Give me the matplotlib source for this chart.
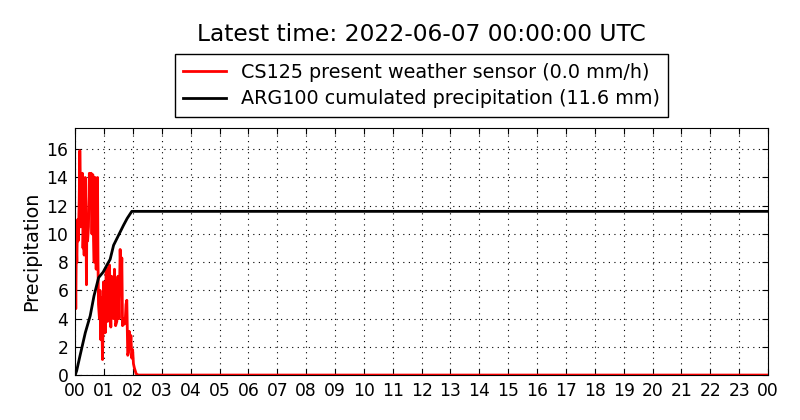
import matplotlib
matplotlib.use('Agg')
import matplotlib.pyplot as plt

# CS125 present weather sensor, hours since 00 UTC -> mm/h
cs125_time = [0.0, 0.02, 0.04, 0.057, 0.08, 0.10, 0.115, 0.14, 0.16, 0.173, 0.19, 0.21, 0.23,
              0.25, 0.27, 0.288, 0.31, 0.33, 0.346, 0.37, 0.39, 0.404, 0.43, 0.46, 0.49,
              0.52, 0.554, 0.58, 0.61, 0.635, 0.657, 0.69, 0.71, 0.727, 0.75, 0.773, 0.79,
              0.807, 0.84, 0.86, 0.888, 0.91, 0.946, 0.965, 0.98, 1.0, 1.015, 1.04, 1.073,
              1.10, 1.12, 1.15, 1.188, 1.21, 1.234, 1.26, 1.29, 1.326, 1.36, 1.40, 1.442,
              1.48, 1.52, 1.557, 1.59, 1.615, 1.64, 1.672, 1.70, 1.73, 1.76, 1.788, 1.82,
              1.846, 1.87, 1.903, 1.93, 1.96, 1.99, 2.018, 2.05, 2.08, 2.11, 2.134, 2.19,
              3.0, 6.0, 12.0, 18.0, 24.0]
cs125_rate = [9.0, 4.7, 9.2, 8.0, 11.0, 9.5, 10.0, 12.5, 15.9, 14.5, 10.5, 14.2, 12.0,
              14.3, 9.0, 10.5, 8.5, 12.0, 14.0, 11.8, 6.4, 11.0, 9.5, 10.5, 14.3,
              12.5, 14.3, 10.0, 14.2, 9.5, 8.0, 14.0, 9.5, 7.5, 10.5, 14.0, 8.0,
              5.0, 4.0, 6.0, 2.5, 5.5, 1.1, 3.5, 6.6, 4.5, 5.5, 3.0, 7.6,
              5.0, 3.8, 7.5, 7.8, 5.5, 3.4, 7.0, 6.4, 4.0, 7.5, 3.5, 3.8,
              7.0, 4.0, 8.9, 6.5, 8.3, 3.5, 4.0, 3.6, 3.7, 5.0, 5.3, 1.4,
              1.6, 3.1, 1.9, 2.8, 1.2, 1.8, 0.8, 0.5, 0.3, 0.1, 0.05, 0.0,
              0.0, 0.0, 0.0, 0.0, 0.0]

# ARG100 cumulated precipitation, hours -> mm
arg100_time = [0.0, 0.05, 0.17, 0.35, 0.52, 0.65, 0.81, 0.97, 1.1, 1.21, 1.33, 1.5,
               1.67, 1.8, 1.96, 2.1, 6.0, 12.0, 18.0, 24.0]
arg100_cum = [0.0, 0.3, 1.4, 3.0, 4.2, 5.6, 6.9, 7.3, 7.8, 8.2, 9.2, 9.9,
              10.6, 11.1, 11.6, 11.6, 11.6, 11.6, 11.6, 11.6]

hour_labels = ['%02d' % h for h in range(24)] + ['00']

fig = plt.figure(figsize=(8, 4.2), dpi=100)
ax = fig.add_axes([0.094, 0.107, 0.866, 0.588])

ax.plot(cs125_time, cs125_rate, color='red', lw=2,
        label='CS125 present weather sensor (0.0 mm/h)')
ax.plot(arg100_time, arg100_cum, color='black', lw=2,
        label='ARG100 cumulated precipitation (11.6 mm)')

ax.set_xlim(0, 24)
ax.set_ylim(0, 17.5)
ax.set_xticks(range(25))
ax.set_xticklabels(hour_labels)
ax.set_yticks(range(0, 17, 2))
ax.tick_params(direction='in', top=True, right=True, labelsize=12.3, length=4.5, pad=5)
ax.grid(True, linestyle=(0, (1, 4)), color='black', lw=0.8)
ax.set_ylabel('Precipitation', fontsize=13.8)

leg = ax.legend(loc='lower center', bbox_to_anchor=(0.5, 1.045), fontsize=13.8,
                fancybox=False, edgecolor='black', framealpha=1, borderaxespad=0,
                handlelength=2.2, borderpad=0.45, labelspacing=0.4)
leg.get_frame().set_linewidth(1)

fig.text(0.527, 0.917, 'Latest time: 2022-06-07 00:00:00 UTC', ha='center', va='center',
         fontsize=16.8)

fig.savefig('out.png', dpi=100)
